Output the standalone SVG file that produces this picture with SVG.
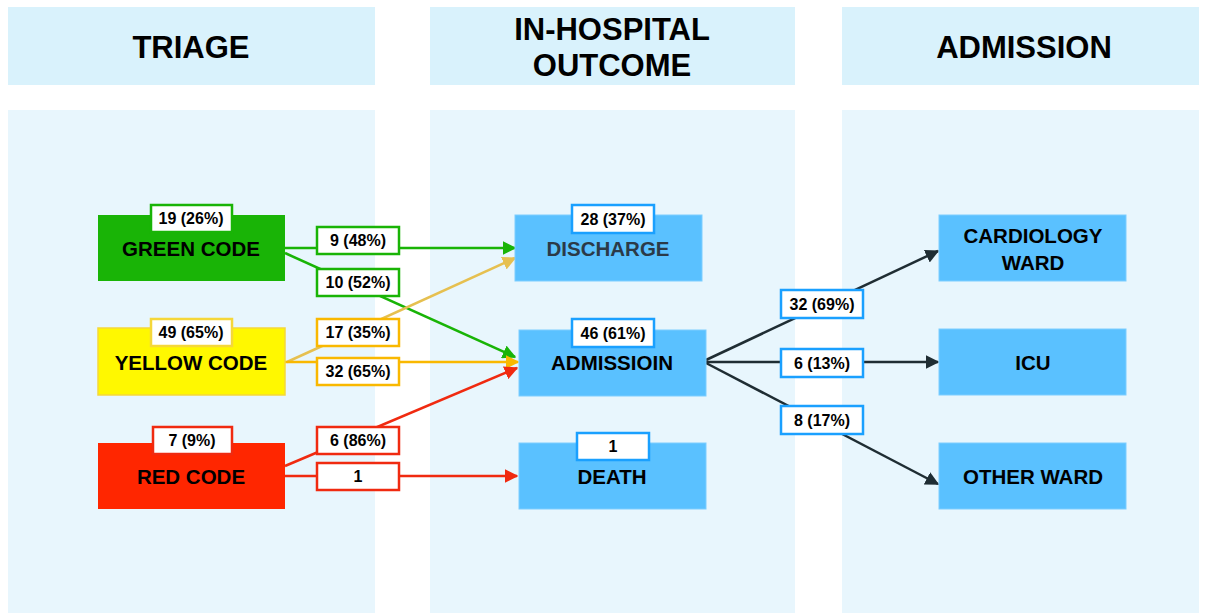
<svg xmlns="http://www.w3.org/2000/svg" width="1207" height="613" viewBox="0 0 1207 613">
<defs>
<style>
.hdr{fill:#d9f2fc}
.body{fill:#e8f6fd}
.htxt{font-family:"Liberation Sans",Arial,sans-serif;font-weight:bold;font-size:31px;fill:#000;text-anchor:middle}
.ntxt{font-family:"Liberation Sans",Arial,sans-serif;font-size:20.5px;fill:#000;text-anchor:middle;font-weight:bold}
.ltxt{font-family:"Liberation Sans",Arial,sans-serif;font-size:16px;font-weight:bold;fill:#000;text-anchor:middle}
.lbl{fill:#fff;stroke-width:2.5}
.blue{fill:#5ac1ff;stroke:#7ccdff;stroke-width:1}
.e{fill:none;stroke-width:2.5}
</style>
<marker id="ag" viewBox="0 0 10 10" refX="9" refY="5" markerWidth="5.5" markerHeight="5.5" markerUnits="strokeWidth" orient="auto"><path d="M0,0L10,5L0,10z" fill="#19b406"/></marker>
<marker id="ay" viewBox="0 0 10 10" refX="9" refY="5" markerWidth="5.5" markerHeight="5.5" markerUnits="strokeWidth" orient="auto"><path d="M0,0L10,5L0,10z" fill="#e6c050"/></marker>
<marker id="ao" viewBox="0 0 10 10" refX="9" refY="5" markerWidth="5.5" markerHeight="5.5" markerUnits="strokeWidth" orient="auto"><path d="M0,0L10,5L0,10z" fill="#f9b800"/></marker>
<marker id="ar" viewBox="0 0 10 10" refX="9" refY="5" markerWidth="5.5" markerHeight="5.5" markerUnits="strokeWidth" orient="auto"><path d="M0,0L10,5L0,10z" fill="#f02a10"/></marker>
<marker id="ad" viewBox="0 0 10 10" refX="9" refY="5" markerWidth="5.5" markerHeight="5.5" markerUnits="strokeWidth" orient="auto"><path d="M0,0L10,5L0,10z" fill="#1f2d33"/></marker>
</defs>
<rect width="1207" height="613" fill="#fff"/>
<g id="panels">
<rect class="hdr" x="8" y="7" width="367" height="78"/>
<rect class="hdr" x="430" y="7" width="365" height="78"/>
<rect class="hdr" x="842" y="7" width="357" height="78"/>
<rect class="body" x="8" y="110" width="367" height="503"/>
<rect class="body" x="430" y="110" width="365" height="503"/>
<rect class="body" x="842" y="110" width="357" height="503"/>
<text class="htxt" x="191" y="58">TRIAGE</text>
<text class="htxt" x="612" y="40">IN-HOSPITAL</text>
<text class="htxt" x="612" y="76">OUTCOME</text>
<text class="htxt" x="1024" y="58">ADMISSION</text>
</g>
<g id="connectors">
<line class="e" x1="285" y1="248" x2="515" y2="248" stroke="#19b406" marker-end="url(#ag)"/>
<line class="e" x1="285" y1="253" x2="515" y2="357" stroke="#19b406" marker-end="url(#ag)"/>
<line class="e" x1="287" y1="362" x2="515" y2="258" stroke="#e6c050" marker-end="url(#ay)"/>
<line class="e" x1="285" y1="362" x2="518" y2="362" stroke="#f9b800" marker-end="url(#ao)"/>
<line class="e" x1="285" y1="466" x2="517" y2="368" stroke="#f02a10" marker-end="url(#ar)"/>
<line class="e" x1="285" y1="476" x2="517" y2="476" stroke="#f02a10" marker-end="url(#ar)"/>
<line class="e" x1="706" y1="360" x2="938" y2="251" stroke="#1f2d33" marker-end="url(#ad)"/>
<line class="e" x1="706" y1="362" x2="938" y2="362" stroke="#1f2d33" marker-end="url(#ad)"/>
<line class="e" x1="706" y1="363" x2="938" y2="484" stroke="#1f2d33" marker-end="url(#ad)"/>
<rect class="lbl" x="317" y="227" width="82" height="27" stroke="#19b406"/><text class="ltxt" x="358" y="246">9 (48%)</text>
<rect class="lbl" x="317" y="269" width="82" height="27" stroke="#19b406"/><text class="ltxt" x="358" y="288">10 (52%)</text>
<rect class="lbl" x="317" y="319" width="82" height="27" stroke="#f9b800"/><text class="ltxt" x="358" y="338">17 (35%)</text>
<rect class="lbl" x="317" y="358" width="82" height="27" stroke="#f9b800"/><text class="ltxt" x="358" y="377">32 (65%)</text>
<rect class="lbl" x="317" y="427" width="82" height="27" stroke="#f02a10"/><text class="ltxt" x="358" y="446">6 (86%)</text>
<rect class="lbl" x="317" y="463" width="82" height="27" stroke="#f02a10"/><text class="ltxt" x="358" y="482">1</text>
<rect class="lbl" x="781" y="290" width="82" height="28" stroke="#1aa0ff"/><text class="ltxt" x="822" y="310">32 (69%)</text>
<rect class="lbl" x="781" y="349" width="82" height="28" stroke="#1aa0ff"/><text class="ltxt" x="822" y="369">6 (13%)</text>
<rect class="lbl" x="781" y="406" width="82" height="28" stroke="#1aa0ff"/><text class="ltxt" x="822" y="426">8 (17%)</text>
</g>
<g id="green">
<rect x="98" y="215" width="187" height="66" fill="#19b406"/>
<text class="ntxt" x="191" y="256">GREEN CODE</text>
<rect class="lbl" x="151" y="205" width="81" height="27" stroke="#19b406"/><text class="ltxt" x="191" y="224">19 (26%)</text>
</g>
<g id="yellow">
<rect x="98" y="328" width="187" height="67" fill="#fff800" stroke="#f5d73a" stroke-width="1.5"/>
<text class="ntxt" x="191" y="370">YELLOW CODE</text>
<rect class="lbl" x="151" y="319" width="81" height="27" stroke="#f5d73a"/><text class="ltxt" x="191" y="338">49 (65%)</text>
</g>
<g id="red">
<rect x="98" y="443" width="187" height="66" fill="#ff2600"/>
<text class="ntxt" x="191" y="484">RED CODE</text>
<rect class="lbl" x="153" y="427" width="79" height="27" stroke="#f02a10"/><text class="ltxt" x="192" y="446">7 (9%)</text>
</g>
<g id="discharge">
<rect class="blue" x="515" y="215" width="187" height="66"/>
<text class="ntxt" x="608" y="256" style="fill:#2b3a48">DISCHARGE</text>
<rect class="lbl" x="572" y="205" width="82" height="28" stroke="#1aa0ff"/><text class="ltxt" x="613" y="225">28 (37%)</text>
</g>
<g id="admission">
<rect class="blue" x="519" y="330" width="187" height="66"/>
<text class="ntxt" x="612" y="370">ADMISSIOIN</text>
<rect class="lbl" x="572" y="319" width="82" height="28" stroke="#1aa0ff"/><text class="ltxt" x="613" y="339">46 (61%)</text>
</g>
<g id="death">
<rect class="blue" x="519" y="443" width="187" height="66"/>
<text class="ntxt" x="612" y="484">DEATH</text>
<rect class="lbl" x="577" y="433" width="72" height="27" stroke="#1aa0ff"/><text class="ltxt" x="613" y="452">1</text>
</g>
<g id="cardiology">
<rect class="blue" x="939" y="215" width="187" height="66"/>
<text class="ntxt" x="1033" y="243">CARDIOLOGY</text>
<text class="ntxt" x="1033" y="270">WARD</text>
</g>
<g id="icu">
<rect class="blue" x="939" y="329" width="187" height="66"/>
<text class="ntxt" x="1033" y="370">ICU</text>
</g>
<g id="other">
<rect class="blue" x="939" y="443" width="187" height="66"/>
<text class="ntxt" x="1033" y="484">OTHER WARD</text>
</g>
</svg>
